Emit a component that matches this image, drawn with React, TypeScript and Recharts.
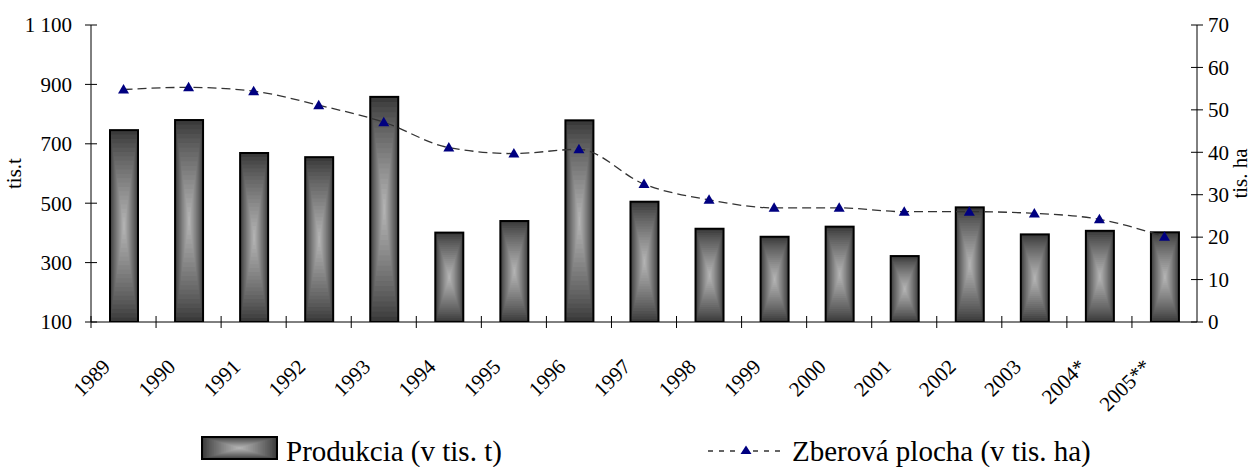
import React from 'react';
import { ComposedChart, Bar, Line, XAxis, YAxis, Legend } from 'recharts';

const years = ['1989', '1990', '1991', '1992', '1993', '1994', '1995', '1996', '1997', '1998', '1999', '2000', '2001', '2002', '2003', '2004*', '2005**'];
const production = [746, 780, 669, 655, 858, 401, 440, 779, 505, 414, 387, 421, 322, 486, 395, 407, 402];
const area = [54.8, 55.3, 54.4, 51.1, 47.1, 41.1, 39.7, 40.7, 32.5, 28.8, 26.9, 26.9, 26.0, 26.0, 25.6, 24.2, 20.1];
const leftTicks = [100, 300, 500, 700, 900, 1100];
const rightTicks = [0, 10, 20, 30, 40, 50, 60, 70];

const data = years.map((year, i) => ({ year, production: production[i], area: area[i] }));

const W = 1257;
const H = 467;
const FONT = '"Liberation Serif", "Times New Roman", serif';
const LEFT_W = 91;
const RIGHT_W = 60;
const TOP = 25;
const XAXIS_H = 145;
const PLOT_W = W - LEFT_W - RIGHT_W;

const STEPS = 22;
const shade = (t: number) => {
  const v = Math.round(0x3a + (0xb8 - 0x3a) * Math.pow(t, 0.85));
  return `rgb(${v},${v},${v})`;
};

const GradientRect = ({ x, y, width, height, stroke = true }: any) => {
  const rects = [];
  for (let i = 0; i < STEPS; i++) {
    const t = i / STEPS;
    const ix = (t * width) / 2;
    const iy = (t * height) / 2;
    rects.push(
      <rect key={i} x={x + ix} y={y + iy} width={Math.max(0, width - 2 * ix)} height={Math.max(0, height - 2 * iy)} fill={shade(t)} />
    );
  }
  return (
    <g>
      {rects}
      {stroke && <rect x={x} y={y} width={width} height={height} fill="none" stroke="#000" strokeWidth={2} />}
    </g>
  );
};

const BarShape = (props: any) => {
  const { x, y, width, height } = props;
  if (height <= 0) return null;
  return <GradientRect x={x} y={y} width={width} height={height} />;
};

const Tri = (props: any) => {
  const { cx, cy } = props;
  if (cx == null || cy == null) return null;
  return <path d={`M${cx},${cy - 5.5} L${cx + 5.5},${cy + 4} L${cx - 5.5},${cy + 4} Z`} fill="#000080" />;
};

const XTick = (props: any) => {
  const { x, y, payload, visibleTicksCount } = props;
  const band = PLOT_W / (visibleTicksCount || years.length);
  const ax = x - 12;
  const ay = y + 46;
  return (
    <g>
      <line x1={x - band / 2} x2={x - band / 2} y1={y - 6} y2={y + 6} stroke="#000" strokeWidth={1} />
      <text x={ax} y={ay} textAnchor="end" transform={`rotate(-45 ${ax} ${ay})`} fontSize={21} fontFamily={FONT} fill="#000">
        {payload.value}
      </text>
    </g>
  );
};

const fmtLeft = (v: number) => (v >= 1000 ? `${Math.floor(v / 1000)} ${String(v % 1000).padStart(3, '0')}` : String(v));

const LeftTick = (props: any) => {
  const { x, y, payload } = props;
  return (
    <g>
      <line x1={x - 6} x2={x + 6} y1={y} y2={y} stroke="#000" strokeWidth={1} />
      <text x={x - 19} y={y} dy="0.35em" textAnchor="end" fontSize={21} fontFamily={FONT} fill="#000">
        {fmtLeft(payload.value)}
      </text>
    </g>
  );
};

const RightTick = (props: any) => {
  const { x, y, payload } = props;
  return (
    <g>
      <line x1={x - 6} x2={x + 6} y1={y} y2={y} stroke="#000" strokeWidth={1} />
      <text x={x + 11} y={y} dy="0.35em" textAnchor="start" fontSize={21} fontFamily={FONT} fill="#000">
        {payload.value}
      </text>
    </g>
  );
};

const LeftTitle = (props: any) => {
  const vb = props.viewBox || { x: 0, y: TOP, width: LEFT_W, height: 297 };
  const tx = vb.x + 14;
  const ty = vb.y + vb.height / 2;
  return (
    <text x={tx} y={ty} dy="0.35em" textAnchor="middle" transform={`rotate(-90 ${tx} ${ty})`} fontSize={21} fontFamily={FONT} fill="#000">
      tis.t
    </text>
  );
};

const RightTitle = (props: any) => {
  const vb = props.viewBox || { x: W - RIGHT_W, y: TOP, width: RIGHT_W, height: 297 };
  const tx = vb.x + 43;
  const ty = vb.y + vb.height / 2;
  return (
    <text x={tx} y={ty} dy="0.35em" textAnchor="middle" transform={`rotate(-90 ${tx} ${ty})`} fontSize={21} fontFamily={FONT} fill="#000">
      tis. ha
    </text>
  );
};

const LegendContent = () => (
  <svg width={W} height={39} style={{ display: 'block' }}>
    <GradientRect x={202} y={9} width={75} height={22} />
    <text x={286} y={33} fontSize={29} fontFamily={FONT} fill="#000">
      Produkcia (v tis. t)
    </text>
    <line x1={708} x2={737} y1={23} y2={23} stroke="#333" strokeWidth={1.3} strokeDasharray="5 6" />
    <line x1={753} x2={780} y1={23} y2={23} stroke="#333" strokeWidth={1.3} strokeDasharray="5 6" />
    <path d="M746,17.5 L751.5,26 L740.5,26 Z" fill="#000080" />
    <text x={792} y={33} fontSize={29} fontFamily={FONT} fill="#000">
      Zberová plocha (v tis. ha)
    </text>
  </svg>
);

export default function App() {
  return (
    <div style={{ width: W, height: H, background: '#fff', position: 'relative' }}>
      <style>{`body{margin:0;background:#fff;}`}</style>
      <ComposedChart width={W} height={H} data={data} margin={{ top: TOP, right: 0, bottom: 0, left: 0 }}>
        <XAxis
          dataKey="year"
          height={XAXIS_H}
          interval={0}
          tickSize={0}
          tickMargin={0}
          tickLine={false}
          axisLine={{ stroke: '#000', strokeWidth: 1 }}
          tick={<XTick />}
        />
        <YAxis
          yAxisId="left"
          orientation="left"
          width={LEFT_W}
          domain={[100, 1100]}
          ticks={leftTicks}
          interval={0}
          tickSize={0}
          tickMargin={0}
          tickLine={false}
          axisLine={{ stroke: '#000', strokeWidth: 1 }}
          tick={<LeftTick />}
          label={{ value: 'tis.t', content: <LeftTitle /> }}
          allowDataOverflow
        />
        <YAxis
          yAxisId="right"
          orientation="right"
          width={RIGHT_W}
          domain={[0, 70]}
          ticks={rightTicks}
          interval={0}
          tickSize={0}
          tickMargin={0}
          tickLine={false}
          axisLine={{ stroke: '#000', strokeWidth: 1 }}
          tick={<RightTick />}
          label={{ value: 'tis. ha', content: <RightTitle /> }}
          allowDataOverflow
        />
        <Legend
          layout="horizontal"
          verticalAlign="middle"
          align="center"
          wrapperStyle={{ top: 428, left: 0, width: W, height: 39 }}
          content={() => <LegendContent />}
        />
        <Bar yAxisId="left" dataKey="production" name="Produkcia (v tis. t)" barSize={28} shape={<BarShape />} isAnimationActive={false} />
        <Line
          yAxisId="right"
          dataKey="area"
          name="Zberová plocha (v tis. ha)"
          type="monotone"
          stroke="#333"
          strokeWidth={1.3}
          strokeDasharray="9 5"
          dot={<Tri />}
          activeDot={false}
          isAnimationActive={false}
        />
      </ComposedChart>
    </div>
  );
}
